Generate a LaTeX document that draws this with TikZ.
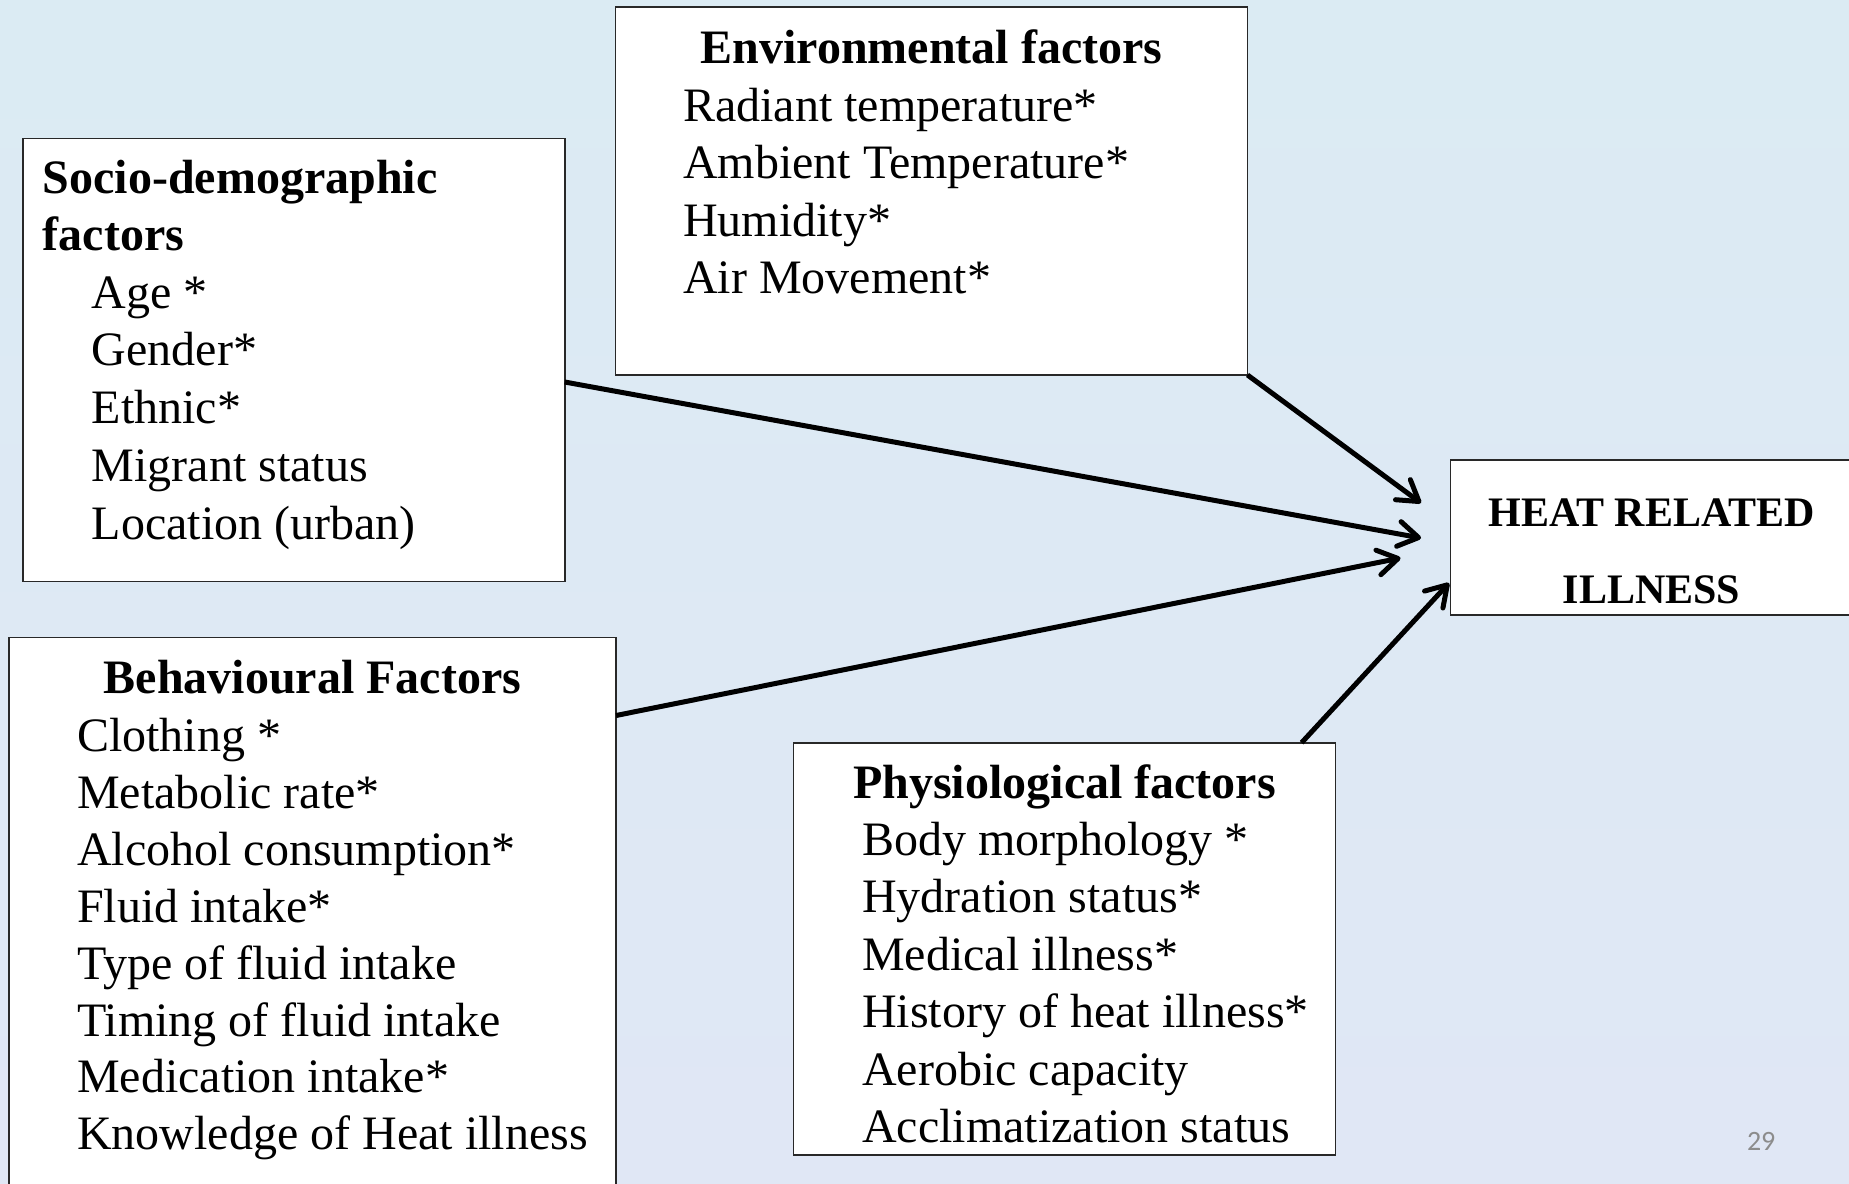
\documentclass[tikz,border=0pt]{standalone}
\usepackage{fontspec}
\setmainfont{Liberation Serif}
\newfontfamily\pagenumfont{Carlito}
\usetikzlibrary{arrows.meta}
\definecolor{bgtop}{RGB}{219,235,243}
\definecolor{bgbot}{RGB}{224,231,245}
\definecolor{boxline}{RGB}{40,40,40}
\definecolor{pagegray}{RGB}{140,140,140}
\tikzset{
  factorbox/.style={draw=boxline, fill=white, line width=0.8pt, inner sep=0pt, outer sep=0pt},
  itemtext/.style={anchor=base west, inner sep=0pt, font=\fontsize{24}{28}\selectfont},
  headtext/.style={anchor=base, inner sep=0pt, font=\fontsize{24}{28}\selectfont\bfseries},
  headleft/.style={anchor=base west, inner sep=0pt, font=\fontsize{24}{28}\selectfont\bfseries},
  heattext/.style={anchor=base, inner sep=0pt, font=\fontsize{21}{24}\selectfont\bfseries},
  link/.style={line width=2.5pt, -{Straight Barb[length=10pt,width=12.5pt,round]}}
}
\begin{document}
\begin{tikzpicture}[x=0.5pt,y=-0.5pt]
\useasboundingbox (0,0) rectangle (1849,1184);
\clip (0,0) rectangle (1849,1184);
\shade[top color=bgtop, bottom color=bgbot] (0,0) rectangle (1849,1184);

% boxes
\node[factorbox, minimum width=316pt, minimum height=184pt] (env) at (931.5,191) {};
\node[factorbox, minimum width=270.75pt, minimum height=221.5pt] (socio) at (293.95,360) {};
\node[factorbox, minimum width=303.5pt, minimum height=281.25pt] (behav) at (312.5,918.75) {};
\node[factorbox, minimum width=271pt, minimum height=206.15pt] (phys) at (1064.6,948.85) {};
\node[factorbox, minimum width=201.25pt, minimum height=77.5pt] (heat) at (1651.75,537.5) {};

% environmental
\node[headtext] (envh) at (931.5,63) {Environmental factors};
\foreach \t [count=\i] in {{Radiant temperature*},{Ambient Temperature*},{Humidity*},{Air Movement*}}
  \node[itemtext] (envi\i) at (682.7,{63.5+57.5*\i}) {\t};

% socio-demographic
\node[headleft] (socioh1) at (42.4,193.3) {Socio-demographic};
\node[headleft] (socioh2) at (42.4,250.7) {factors};
\foreach \t [count=\i] in {{Age *},{Gender*},{Ethnic*},{Migrant status},{Location (urban)}}
  \node[itemtext] (socioi\i) at (91.5,{250.2+57.8*\i}) {\t};

% behavioural
\node[headtext] (behavh) at (312.5,693.7) {Behavioural Factors};
\foreach \t [count=\i] in {{Clothing *},{Metabolic rate*},{Alcohol consumption*},{Fluid intake*},{Type of fluid intake},{Timing of fluid intake},{Medication intake*},{Knowledge of Heat illness}}
  \node[itemtext] (behavi\i) at (76.8,{694.6+56.9*\i}) {\t};

% physiological
\node[headtext] (physh) at (1064.6,798.3) {Physiological factors};
\foreach \t [count=\i] in {{Body morphology *},{Hydration status*},{Medical illness*},{History of heat illness*},{Aerobic capacity},{Acclimatization status}}
  \node[itemtext] (physi\i) at (861.8,{797.5+57.5*\i}) {\t};

% outcome
\node[heattext] (heat1) at (1651.6,526.7) {HEAT RELATED};
\node[heattext] (heat2) at (1651.6,603.3) {ILLNESS};

% page number
\node[anchor=base west, inner sep=0pt, font=\pagenumfont\fontsize{14}{16}\selectfont, text=pagegray] (pnum) at (1746.6,1150.7) {29};

% connectors
\coordinate (tipA) at (1421,503);
\coordinate (tipB) at (1421,538);
\coordinate (tipC) at (1400.5,558);
\coordinate (tipD) at (1449,583);
\draw[link] (env.south east) -- (tipA);
\draw[link] ([yshift=-11pt]socio.east) -- (tipB);
\draw[link] ([yshift=-39pt]behav.north east) -- (tipC);
\draw[link] ([xshift=-17pt]phys.north east) -- (tipD);
\end{tikzpicture}
\end{document}
